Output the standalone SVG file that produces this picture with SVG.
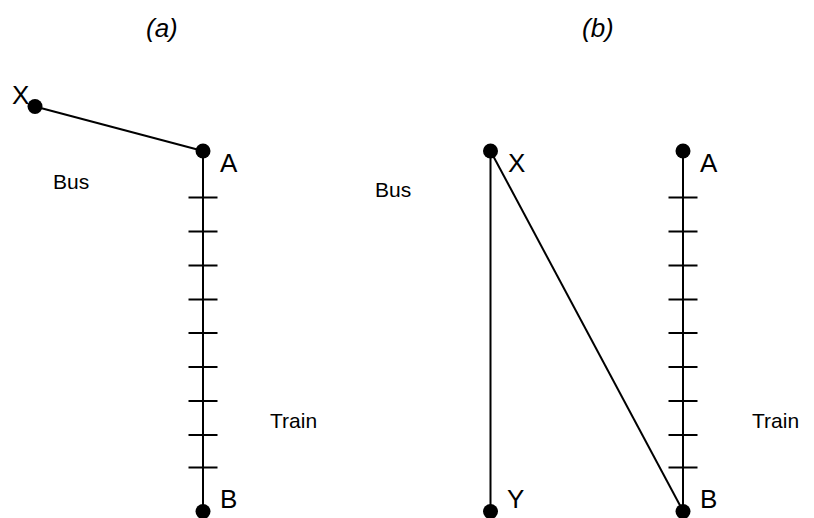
<svg xmlns="http://www.w3.org/2000/svg" width="814" height="518" viewBox="0 0 814 518">
<style>
.ln{stroke:#000;stroke-width:2;fill:none}
.dot{fill:#000}
.lbl{font-family:"Liberation Sans",Arial,sans-serif;font-size:26px;fill:#000}
.sm{font-family:"Liberation Sans",Arial,sans-serif;font-size:21px;fill:#000}
.ttl{font-family:"Liberation Sans",Arial,sans-serif;font-size:26px;font-style:italic;fill:#000}
</style>
<defs>
<g id="ticks">
<path class="ln" d="M188.5,197.5h29M188.5,231.5h29M188.5,265.5h29M188.5,299.5h29M188.5,333h29M188.5,367h29M188.5,401h29M188.5,435h29M188.5,467.5h29"/>
</g>
</defs>
<rect width="814" height="518" fill="#fff"/>
<text class="ttl" x="146" y="37">(a)</text>
<text class="ttl" x="582" y="37">(b)</text>
<g id="connectors">
<line class="ln" x1="35" y1="106.5" x2="203" y2="151"/>
<line class="ln" x1="203" y1="151" x2="203" y2="511"/>
<use href="#ticks"/>
<line class="ln" x1="490.5" y1="151" x2="490.5" y2="511"/>
<line class="ln" x1="490.5" y1="151" x2="683" y2="511"/>
<line class="ln" x1="683" y1="151" x2="683" y2="511"/>
<use href="#ticks" transform="translate(480,0)"/>
</g>
<g id="a-X"><circle class="dot" cx="35" cy="106.5" r="7.5"/><text class="lbl" x="12" y="104">X</text></g>
<g id="a-A"><circle class="dot" cx="203" cy="151" r="7.5"/><text class="lbl" x="220" y="172">A</text></g>
<g id="a-B"><circle class="dot" cx="203" cy="511.5" r="7.5"/><text class="lbl" x="220" y="508">B</text></g>
<g id="a-bus"><text class="sm" x="53" y="189">Bus</text></g>
<g id="a-train"><text class="sm" x="270" y="428">Train</text></g>
<g id="b-X"><circle class="dot" cx="490.5" cy="151" r="7.5"/><text class="lbl" x="508" y="172">X</text></g>
<g id="b-Y"><circle class="dot" cx="490.5" cy="511.5" r="7.5"/><text class="lbl" x="507" y="508">Y</text></g>
<g id="b-A"><circle class="dot" cx="683" cy="151" r="7.5"/><text class="lbl" x="700" y="172">A</text></g>
<g id="b-B"><circle class="dot" cx="683" cy="511.5" r="7.5"/><text class="lbl" x="700" y="508">B</text></g>
<g id="b-bus"><text class="sm" x="375" y="197">Bus</text></g>
<g id="b-train"><text class="sm" x="752" y="428">Train</text></g>
</svg>
